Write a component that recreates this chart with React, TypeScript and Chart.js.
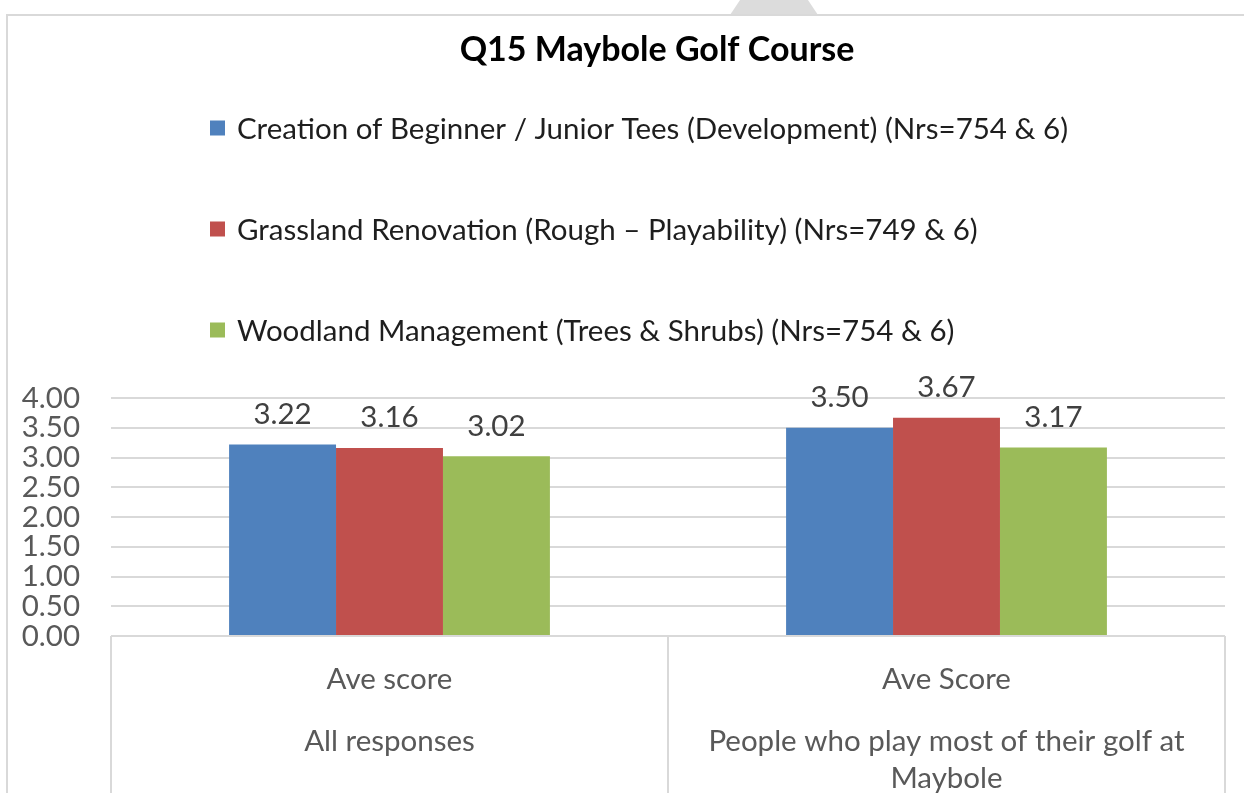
import React, { useEffect, useRef } from "react";
import { Chart, registerables } from "chart.js";

Chart.register(...registerables);

// ---- data ----
const chartTitle = "Q15 Maybole Golf Course";
const categoryLabels: string[][] = [
  ["Ave score", "", "", "", "", "All responses"],
  ["Ave Score", "", "", "", "", "People who play most of their golf at", "", "", "Maybole"],
];
const seriesNames = [
  "Creation of Beginner / Junior Tees (Development) (Nrs=754 & 6)",
  "Grassland Renovation (Rough \u2013 Playability) (Nrs=749 & 6)",
  "Woodland Management (Trees & Shrubs) (Nrs=754 & 6)",
];
const developmentValues = [3.22, 3.5];
const grasslandValues = [3.16, 3.67];
const woodlandValues = [3.02, 3.17];
const seriesColors = ["#4F81BD", "#C0504D", "#9BBB59"];
const yMin = 0;
const yMax = 4;
const yStep = 0.5;

const FONT = "Lato, 'Open Sans', sans-serif";
const TEXT_SIZE = 29.5;
const TITLE_SIZE = 34;

const titlePlugin = {
  id: "offsetTitle",
  afterDraw(chart: any) {
    const ctx = chart.ctx;
    ctx.save();
    ctx.font = `bold ${TITLE_SIZE}px ${FONT}`;
    ctx.fillStyle = "#000000";
    ctx.textAlign = "center";
    ctx.textBaseline = "middle";
    ctx.fillText(chartTitle, 657, 50);
    ctx.restore();
  },
};

const legendPlugin = {
  id: "verticalLegend",
  afterDraw(chart: any) {
    const ctx = chart.ctx;
    ctx.save();
    ctx.font = `${TEXT_SIZE}px ${FONT}`;
    ctx.textBaseline = "middle";
    ctx.textAlign = "left";
    chart.data.datasets.forEach((ds: any, i: number) => {
      const y = 128 + i * 101;
      ctx.fillStyle = ds.backgroundColor;
      ctx.fillRect(210, y - 7.5, 15, 15);
      ctx.fillStyle = "#1e1e1e";
      ctx.fillText(ds.label, 237, y + 1);
    });
    ctx.restore();
  },
};

const valueLabelPlugin = {
  id: "valueLabels",
  afterDatasetsDraw(chart: any) {
    const ctx = chart.ctx;
    ctx.save();
    ctx.font = `${TEXT_SIZE}px ${FONT}`;
    ctx.fillStyle = "#404040";
    ctx.textAlign = "center";
    ctx.textBaseline = "middle";
    chart.data.datasets.forEach((ds: any, i: number) => {
      const meta = chart.getDatasetMeta(i);
      meta.data.forEach((el: any, j: number) => {
        ctx.fillText(Number(ds.data[j]).toFixed(2), el.x, el.y - 30);
      });
    });
    ctx.restore();
  },
};

export default function App() {
  const canvasRef = useRef<HTMLCanvasElement | null>(null);

  useEffect(() => {
    if (!canvasRef.current) return;
    const seriesValues = [developmentValues, grasslandValues, woodlandValues];
    const chart = new Chart(canvasRef.current, {
      type: "bar",
      data: {
        labels: categoryLabels,
        datasets: seriesNames.map((name, i) => ({
          label: name,
          data: seriesValues[i],
          backgroundColor: seriesColors[i],
          borderWidth: 0,
          barPercentage: 1,
          categoryPercentage: 0.576,
        })),
      },
      options: {
        responsive: false,
        animation: false,
        devicePixelRatio: 1,
        layout: { padding: { left: 0, right: 19, top: 398, bottom: 0 } },
        plugins: {
          legend: { display: false },
          tooltip: { enabled: false },
          title: { display: false },
        },
        scales: {
          x: {
            grid: {
              offset: true,
              drawOnChartArea: false,
              drawTicks: true,
              tickLength: 157,
              color: "#D9D9D9",
              lineWidth: 2,
            },
            border: { display: false },
            ticks: {
              autoSkip: false,
              maxRotation: 0,
              minRotation: 0,
              padding: -120.2,
              color: "#595959",
              font: { family: FONT, size: TEXT_SIZE, lineHeight: "12.4px" },
            },
            afterFit: (scale: any) => {
              scale.height = 157;
            },
          },
          y: {
            min: yMin,
            max: yMax,
            ticks: {
              stepSize: yStep,
              autoSkip: false,
              padding: 31,
              color: "#595959",
              font: { family: FONT, size: TEXT_SIZE },
              callback: (v: any) => Number(v).toFixed(2),
            },
            grid: { color: "#D9D9D9", lineWidth: 2, drawTicks: false },
            border: { display: false },
            afterFit: (scale: any) => {
              scale.width = 111;
            },
          },
        },
      },
      plugins: [titlePlugin, legendPlugin, valueLabelPlugin],
    });
    return () => chart.destroy();
  }, []);

  return (
    <div
      style={{
        position: "fixed",
        left: 0,
        top: 0,
        width: 1244,
        height: 793,
        overflow: "hidden",
        background: "#ffffff",
      }}
    >
      <div
        style={{
          position: "absolute",
          left: 730,
          top: 0,
          width: 88,
          height: 15,
          background: "#DCDCDC",
          clipPath: "polygon(11.4% 0, 88.6% 0, 100% 100%, 0 100%)",
        }}
      />
      <div
        style={{
          position: "absolute",
          left: 6,
          top: 14,
          width: 1400,
          height: 1000,
          border: "2px solid #D9D9D9",
          boxSizing: "border-box",
        }}
      />
      <canvas
        ref={canvasRef}
        width={1244}
        height={793}
        style={{ position: "absolute", left: 0, top: 0 }}
      />
    </div>
  );
}
